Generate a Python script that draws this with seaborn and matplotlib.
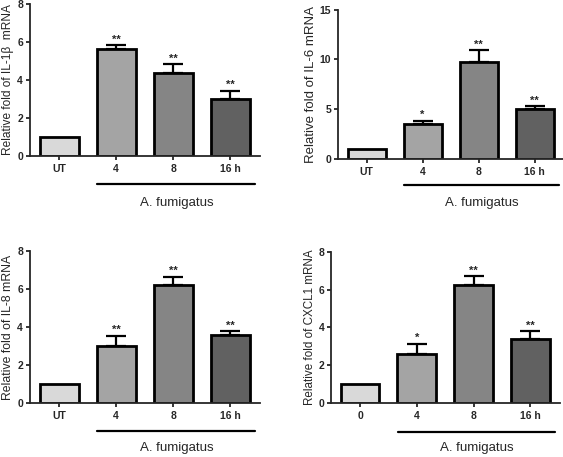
import numpy as np
import matplotlib
matplotlib.use("Agg")
import matplotlib.pyplot as plt
import matplotlib.transforms as mtransforms
import seaborn as sns

sns.set_style("ticks")
plt.rcParams['font.family'] = ['Liberation Sans', 'DejaVu Sans']

# data
groups_ut = ['UT', '4', '8', '16 h']
groups_0 = ['0', '4', '8', '16 h']

il1b_mean = [1.0, 5.62, 4.37, 3.02]
il1b_err = [0.0, 0.2, 0.47, 0.42]
il1b_sig = ['', '**', '**', '**']

il6_mean = [1.0, 3.5, 9.75, 5.0]
il6_err = [0.0, 0.33, 1.2, 0.27]
il6_sig = ['', '*', '**', '**']

il8_mean = [1.0, 3.02, 6.22, 3.59]
il8_err = [0.0, 0.53, 0.44, 0.21]
il8_sig = ['', '**', '**', '**']

cxcl1_mean = [1.0, 2.58, 6.25, 3.39]
cxcl1_err = [0.0, 0.56, 0.46, 0.41]
cxcl1_sig = ['', '*', '**', '**']

bar_colors = ['#d9d9d9', '#a4a4a4', '#858585', '#616161']

fig = plt.figure(figsize=(5.63, 4.57), dpi=100)


def panel(rect, labels, means, errs, sigs, ymax, step, ylabel, ylabel_size,
          line_y, text_y, xlim):
    ax = fig.add_axes(rect)
    sns.barplot(x=labels, y=means, hue=labels, palette=bar_colors, legend=False,
                edgecolor='black', linewidth=2.0, width=0.68, ax=ax, zorder=2)
    x = np.arange(len(labels))
    has_err = np.array(errs) > 0
    means_a = np.array(means)[has_err]
    errs_a = np.array(errs)[has_err]
    ax.errorbar(x[has_err], means_a, yerr=[np.zeros(len(errs_a)), errs_a],
                fmt='none', ecolor='black', elinewidth=1.6, capsize=7,
                capthick=1.6, zorder=1)
    for xi, m, e, s in zip(x, means, errs, sigs):
        if s:
            ax.annotate(s, (xi, m + e), xytext=(0, 0.3), textcoords='offset points',
                        ha='center', va='bottom', fontsize=8, fontweight='bold')
    ax.set_xlim(*xlim)
    ax.set_ylim(0, ymax)
    ax.set_yticks(np.arange(0, ymax + 0.1, step))
    ax.set_ylabel(ylabel, fontsize=ylabel_size, labelpad=2)
    ax.set_xlabel('')
    sns.despine(ax=ax)
    for sp in ['left', 'bottom']:
        ax.spines[sp].set_linewidth(1.3)
    ax.tick_params(axis='y', length=3, width=1.3, pad=2, labelsize=7.5)
    ax.tick_params(axis='x', length=3, width=1.3, pad=3, labelsize=7.5)
    for t in ax.get_xticklabels() + ax.get_yticklabels():
        t.set_fontweight('bold')
    trans = mtransforms.blended_transform_factory(ax.transData, ax.transAxes)
    ax.plot([0.67, 3.44], [line_y, line_y], color='black', lw=1.6,
            transform=trans, clip_on=False)
    ax.text(2.06, text_y, 'A. fumigatus', transform=trans, ha='center',
            va='center', fontsize=9.5)
    return ax


panel([0.0533, 0.6586, 0.4085, 0.3326], groups_ut, il1b_mean, il1b_err, il1b_sig,
      8, 2, 'Relative fold of IL-1\u03b2  mRNA', 8.6, -0.184, -0.31, (-0.51, 3.52))
panel([0.6004, 0.6527, 0.3990, 0.3261], groups_ut, il6_mean, il6_err, il6_sig,
      15, 5, 'Relative fold of IL-6 mRNA', 9.5, -0.177, -0.30, (-0.51, 3.5))
panel([0.0533, 0.1182, 0.4085, 0.3319], groups_ut, il8_mean, il8_err, il8_sig,
      8, 2, 'Relative fold of IL-8 mRNA', 8.8, -0.183, -0.30, (-0.51, 3.52))
panel([0.5885, 0.1182, 0.4060, 0.3304], groups_0, cxcl1_mean, cxcl1_err, cxcl1_sig,
      8, 2, 'Relative fold of CXCL1 mRNA', 8.4, -0.19, -0.30, (-0.505, 3.52))

fig.savefig('out.png', dpi=100)
